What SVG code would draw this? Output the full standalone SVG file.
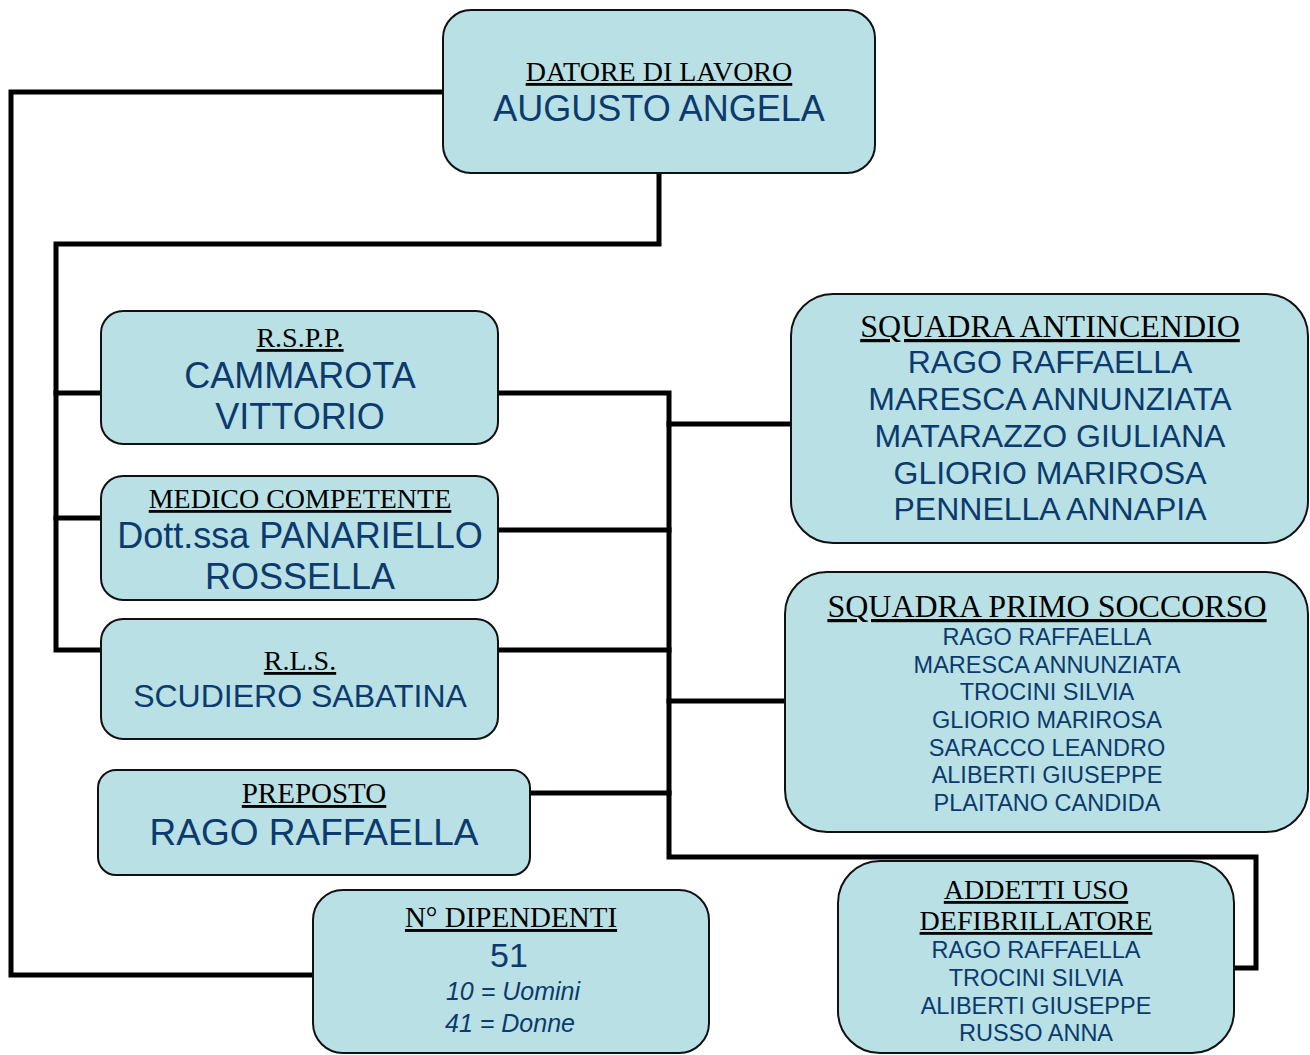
<svg xmlns="http://www.w3.org/2000/svg" width="1310" height="1055" viewBox="0 0 1310 1055">
<style>
.box{fill:#b9e0e4;stroke:#111;stroke-width:2}
.hd{font-family:"Liberation Serif","Times New Roman",serif;fill:#000;text-anchor:middle;text-decoration:underline}
.nm{font-family:"Liberation Sans",Arial,sans-serif;fill:#0b3a6e;text-anchor:middle}
.it{font-style:italic}
.ln{fill:none;stroke:#000;stroke-width:5;stroke-linejoin:miter;stroke-linecap:square}
</style>
<rect width="1310" height="1055" fill="#fff"/>
<g id="connectors">
<polyline class="ln" points="443,92 11,92 11,975 313,975"/>
<polyline class="ln" points="659,173 659,244 56,244 56,650 101,650"/>
<line class="ln" x1="56" y1="393" x2="101" y2="393"/>
<line class="ln" x1="56" y1="518" x2="101" y2="518"/>
<polyline class="ln" points="498,393 669,393 669,857 1256,857 1256,968 1234,968"/>
<line class="ln" x1="498" y1="530" x2="669" y2="530"/>
<line class="ln" x1="498" y1="650" x2="669" y2="650"/>
<line class="ln" x1="530" y1="793" x2="669" y2="793"/>
<line class="ln" x1="669" y1="424" x2="791" y2="424"/>
<line class="ln" x1="669" y1="701" x2="785" y2="701"/>
</g>
<g id="datore">
<rect class="box" x="443" y="10" width="432" height="163" rx="28"/>
<text class="hd" x="659" y="81" font-size="28">DATORE DI LAVORO</text>
<text class="nm" x="659" y="121" font-size="36">AUGUSTO ANGELA</text>
</g>
<g id="rspp">
<rect class="box" x="101" y="311" width="397" height="133" rx="22"/>
<text class="hd" x="300" y="347" font-size="28">R.S.P.P.</text>
<text class="nm" x="300" y="388" font-size="36">CAMMAROTA</text>
<text class="nm" x="300" y="429" font-size="36">VITTORIO</text>
</g>
<g id="medico">
<rect class="box" x="101" y="476" width="397" height="124" rx="22"/>
<text class="hd" x="300" y="508" font-size="28">MEDICO COMPETENTE</text>
<text class="nm" x="300" y="548" font-size="36">Dott.ssa PANARIELLO</text>
<text class="nm" x="300" y="589" font-size="36">ROSSELLA</text>
</g>
<g id="rls">
<rect class="box" x="101" y="619" width="397" height="120" rx="22"/>
<text class="hd" x="300" y="670" font-size="28">R.L.S.</text>
<text class="nm" x="300" y="707" font-size="32">SCUDIERO SABATINA</text>
</g>
<g id="preposto">
<rect class="box" x="98" y="770" width="432" height="105" rx="18"/>
<text class="hd" x="314" y="803" font-size="29">PREPOSTO</text>
<text class="nm" x="314" y="845" font-size="37">RAGO RAFFAELLA</text>
</g>
<g id="dipendenti">
<rect class="box" x="313" y="890" width="396" height="163" rx="30"/>
<text class="hd" x="511" y="927" font-size="29">N° DIPENDENTI</text>
<text class="nm" x="509" y="967" font-size="34">51</text>
<text class="nm it" x="513" y="1000" font-size="25">10 = Uomini</text>
<text class="nm it" x="510" y="1032" font-size="25">41 = Donne</text>
</g>
<g id="antincendio">
<rect class="box" x="791" y="294" width="517" height="249" rx="42"/>
<text class="hd" x="1050" y="337" font-size="32">SQUADRA ANTINCENDIO</text>
<text class="nm" x="1050" y="373" font-size="32">RAGO RAFFAELLA</text>
<text class="nm" x="1050" y="410" font-size="32">MARESCA ANNUNZIATA</text>
<text class="nm" x="1050" y="447" font-size="32">MATARAZZO GIULIANA</text>
<text class="nm" x="1050" y="484" font-size="32">GLIORIO MARIROSA</text>
<text class="nm" x="1050" y="520" font-size="32">PENNELLA ANNAPIA</text>
</g>
<g id="primosoccorso">
<rect class="box" x="785" y="572" width="523" height="260" rx="42"/>
<text class="hd" x="1047" y="617" font-size="32">SQUADRA PRIMO SOCCORSO</text>
<text class="nm" x="1047" y="645" font-size="23.5">RAGO RAFFAELLA</text>
<text class="nm" x="1047" y="673" font-size="23.5">MARESCA ANNUNZIATA</text>
<text class="nm" x="1047" y="700" font-size="23.5">TROCINI SILVIA</text>
<text class="nm" x="1047" y="728" font-size="23.5">GLIORIO MARIROSA</text>
<text class="nm" x="1047" y="756" font-size="23.5">SARACCO LEANDRO</text>
<text class="nm" x="1047" y="783" font-size="23.5">ALIBERTI GIUSEPPE</text>
<text class="nm" x="1047" y="811" font-size="23.5">PLAITANO CANDIDA</text>
</g>
<g id="defibrillatore">
<rect class="box" x="838" y="861" width="396" height="192" rx="42"/>
<text class="hd" x="1036" y="899" font-size="28">ADDETTI USO</text>
<text class="hd" x="1036" y="930" font-size="28">DEFIBRILLATORE</text>
<text class="nm" x="1036" y="958" font-size="23.5">RAGO RAFFAELLA</text>
<text class="nm" x="1036" y="986" font-size="23.5">TROCINI SILVIA</text>
<text class="nm" x="1036" y="1014" font-size="23.5">ALIBERTI GIUSEPPE</text>
<text class="nm" x="1036" y="1041" font-size="23.5">RUSSO ANNA</text>
</g>
</svg>
